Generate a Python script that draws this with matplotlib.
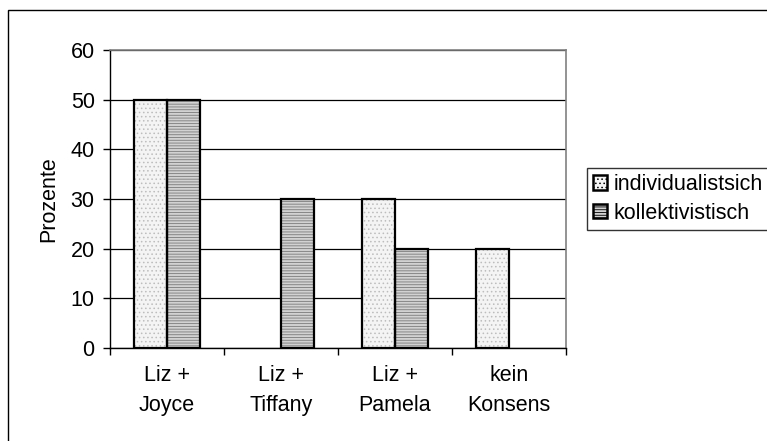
import matplotlib
matplotlib.use("Agg")
import matplotlib.pyplot as plt
import matplotlib.patches as mpatches
import numpy as np

categories = ["Liz +\nJoyce", "Liz +\nTiffany", "Liz +\nPamela", "kein\nKonsens"]
individualistisch = [50, 0, 30, 20]
kollektivistisch = [50, 30, 20, 0]
series_names = ["individualistsich", "kollektivistisch"]
y_ticks = [0, 10, 20, 30, 40, 50, 60]

plt.rcParams["font.family"] = ["Liberation Sans", "DejaVu Sans"]
plt.rcParams["font.size"] = 15.5
plt.rcParams["hatch.linewidth"] = 0.6

fig = plt.figure(figsize=(7.67, 4.41), dpi=100)
fig.patch.set_facecolor("white")

# outer chart frame (only top and left edges fall inside the canvas)
fig.add_artist(mpatches.Rectangle(
    (8 / 767, -20 / 441), 800 / 767, 451 / 441, transform=fig.transFigure,
    fill=False, edgecolor="black", linewidth=1.0, clip_on=False))

ax = fig.add_axes([110 / 767, 93 / 441, 456 / 767, 298 / 441])

x = np.arange(len(categories))
width = 0.29

styles = [
    dict(facecolor="#f4f4f4", hatch="....", hatch_color="#bdbdbd"),
    dict(facecolor="#d2d2d2", hatch="------", hatch_color="#7a7a7a"),
]

handles = []
for k, (values, style) in enumerate(zip([individualistisch, kollektivistisch], styles)):
    offset = (k - 0.5) * width
    for xi, v in zip(x, values):
        if v == 0:
            continue
        ax.bar(xi + offset, v, width, facecolor=style["facecolor"],
               edgecolor=style["hatch_color"], hatch=style["hatch"],
               linewidth=0, zorder=3)
        ax.bar(xi + offset, v, width, fill=False, edgecolor="black",
               linewidth=1.6, zorder=4)
    handles.append(mpatches.Patch(facecolor=style["facecolor"],
                                  edgecolor="black", hatch=style["hatch"],
                                  linewidth=1.8))

ax.set_xlim(-0.5, len(categories) - 0.5)
ax.set_ylim(0, 60)
ax.set_yticks(y_ticks)
ax.yaxis.grid(True, color="black", linewidth=0.9, zorder=0)
ax.set_axisbelow(True)

# category ticks sit between groups, labels centred under each group
ax.set_xticks(np.arange(len(categories) + 1) - 0.5)
ax.set_xticklabels([])
ax.set_xticks(x, minor=True)
ax.set_xticklabels(categories, minor=True, linespacing=1.6)
ax.tick_params(axis="x", which="minor", length=0, pad=12)
ax.tick_params(axis="x", which="major", length=5, width=1, direction="out")
ax.tick_params(axis="y", length=5, width=1, direction="out", pad=6)

for side in ["top", "right"]:
    ax.spines[side].set_color("#808080")
    ax.spines[side].set_linewidth(1.2)
for side in ["left", "bottom"]:
    ax.spines[side].set_color("black")
    ax.spines[side].set_linewidth(1.0)

ax.set_ylabel("Prozente", labelpad=8)

leg = fig.legend(handles, series_names, loc="center left",
                 bbox_to_anchor=(587 / 767, 242 / 441),
                 frameon=True, fancybox=False, handlelength=0.65,
                 handleheight=0.65, handletextpad=0.3, borderpad=0.3,
                 labelspacing=0.35, borderaxespad=0)
leg.get_frame().set_edgecolor("black")
leg.get_frame().set_linewidth(1.0)

fig.savefig("out.png", dpi=100, facecolor="white")
